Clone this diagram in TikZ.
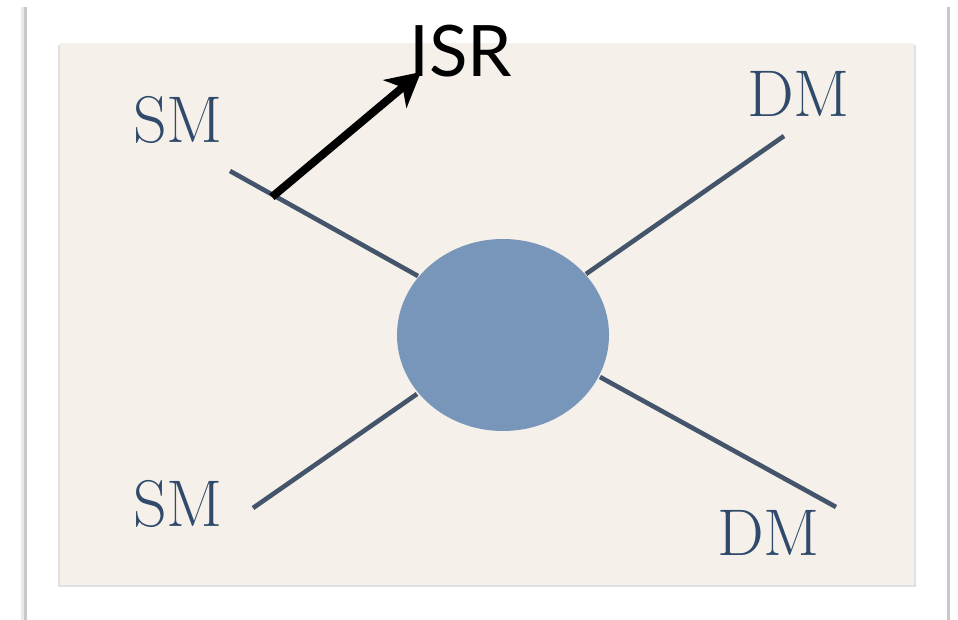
\documentclass[tikz,border=0pt]{standalone}
\usepackage{fontspec}
\newfontfamily\isrfont{Lato}
\usetikzlibrary{arrows.meta,shapes.geometric}
\definecolor{panel}{HTML}{F5F0EA}
\definecolor{wire}{HTML}{44546A}
\definecolor{blob}{HTML}{7895BA}
\definecolor{labelc}{HTML}{2F4A6B}
\definecolor{frame}{HTML}{C9C9C9}
\tikzset{
  wireline/.style={draw=wire, line width=4.6pt},
  particle/.style={font=\fontsize{66}{66}\selectfont, text=labelc, inner sep=0pt, anchor=base west},
}
\begin{document}
\begin{tikzpicture}[x=1pt, y=-1pt]
  \useasboundingbox (0,0) rectangle (958,620);
  \fill[white] (0,0) rectangle (958,620);
  % outer page edges
  \fill[frame] (24,7) rectangle (27,620);
  \fill[frame!40] (21,7) rectangle (24,620);
  \fill[frame] (947,7) rectangle (950,620);
  % panel with soft shadow
  \fill[black!12] (58,45) rectangle (916,587);
  \fill[panel] (60,43) rectangle (914,585);
  % central blob
  \node[ellipse, fill=blob, minimum width=212pt, minimum height=192pt, inner sep=0pt] (vtx) at (503,335) {};
  % leg end points
  \coordinate (ul) at (230,171);
  \coordinate (ur) at (784,136);
  \coordinate (ll) at (253,508);
  \coordinate (lr) at (836,507);
  \coordinate (ulin) at (418,276);
  \coordinate (urin) at (586,274);
  \coordinate (llin) at (417,394);
  \coordinate (lrin) at (600,377);
  \draw[wireline] (ul) -- (ulin);
  \draw[wireline] (ur) -- (urin);
  \draw[wireline] (ll) -- (llin);
  \draw[wireline] (lr) -- (lrin);
  % labels
  \node[particle] (sm1) at (133,143) {SM};
  \node[particle] (dm1) at (747,117) {DM};
  \node[particle] (sm2) at (133,526) {SM};
  \node[particle] (dm2) at (717,555) {DM};
  % ISR arrow
  \node[font=\isrfont\fontsize{71}{71}\selectfont, inner sep=0pt, anchor=base west] (isr) at (409,77) {ISR};
  \coordinate (tail) at (272,197);
  \coordinate (tip) at (421,72);
  \draw[line width=8pt, -{Stealth[length=34pt, width=36pt, inset=10pt]}] (tail) -- (tip);
\end{tikzpicture}
\end{document}
